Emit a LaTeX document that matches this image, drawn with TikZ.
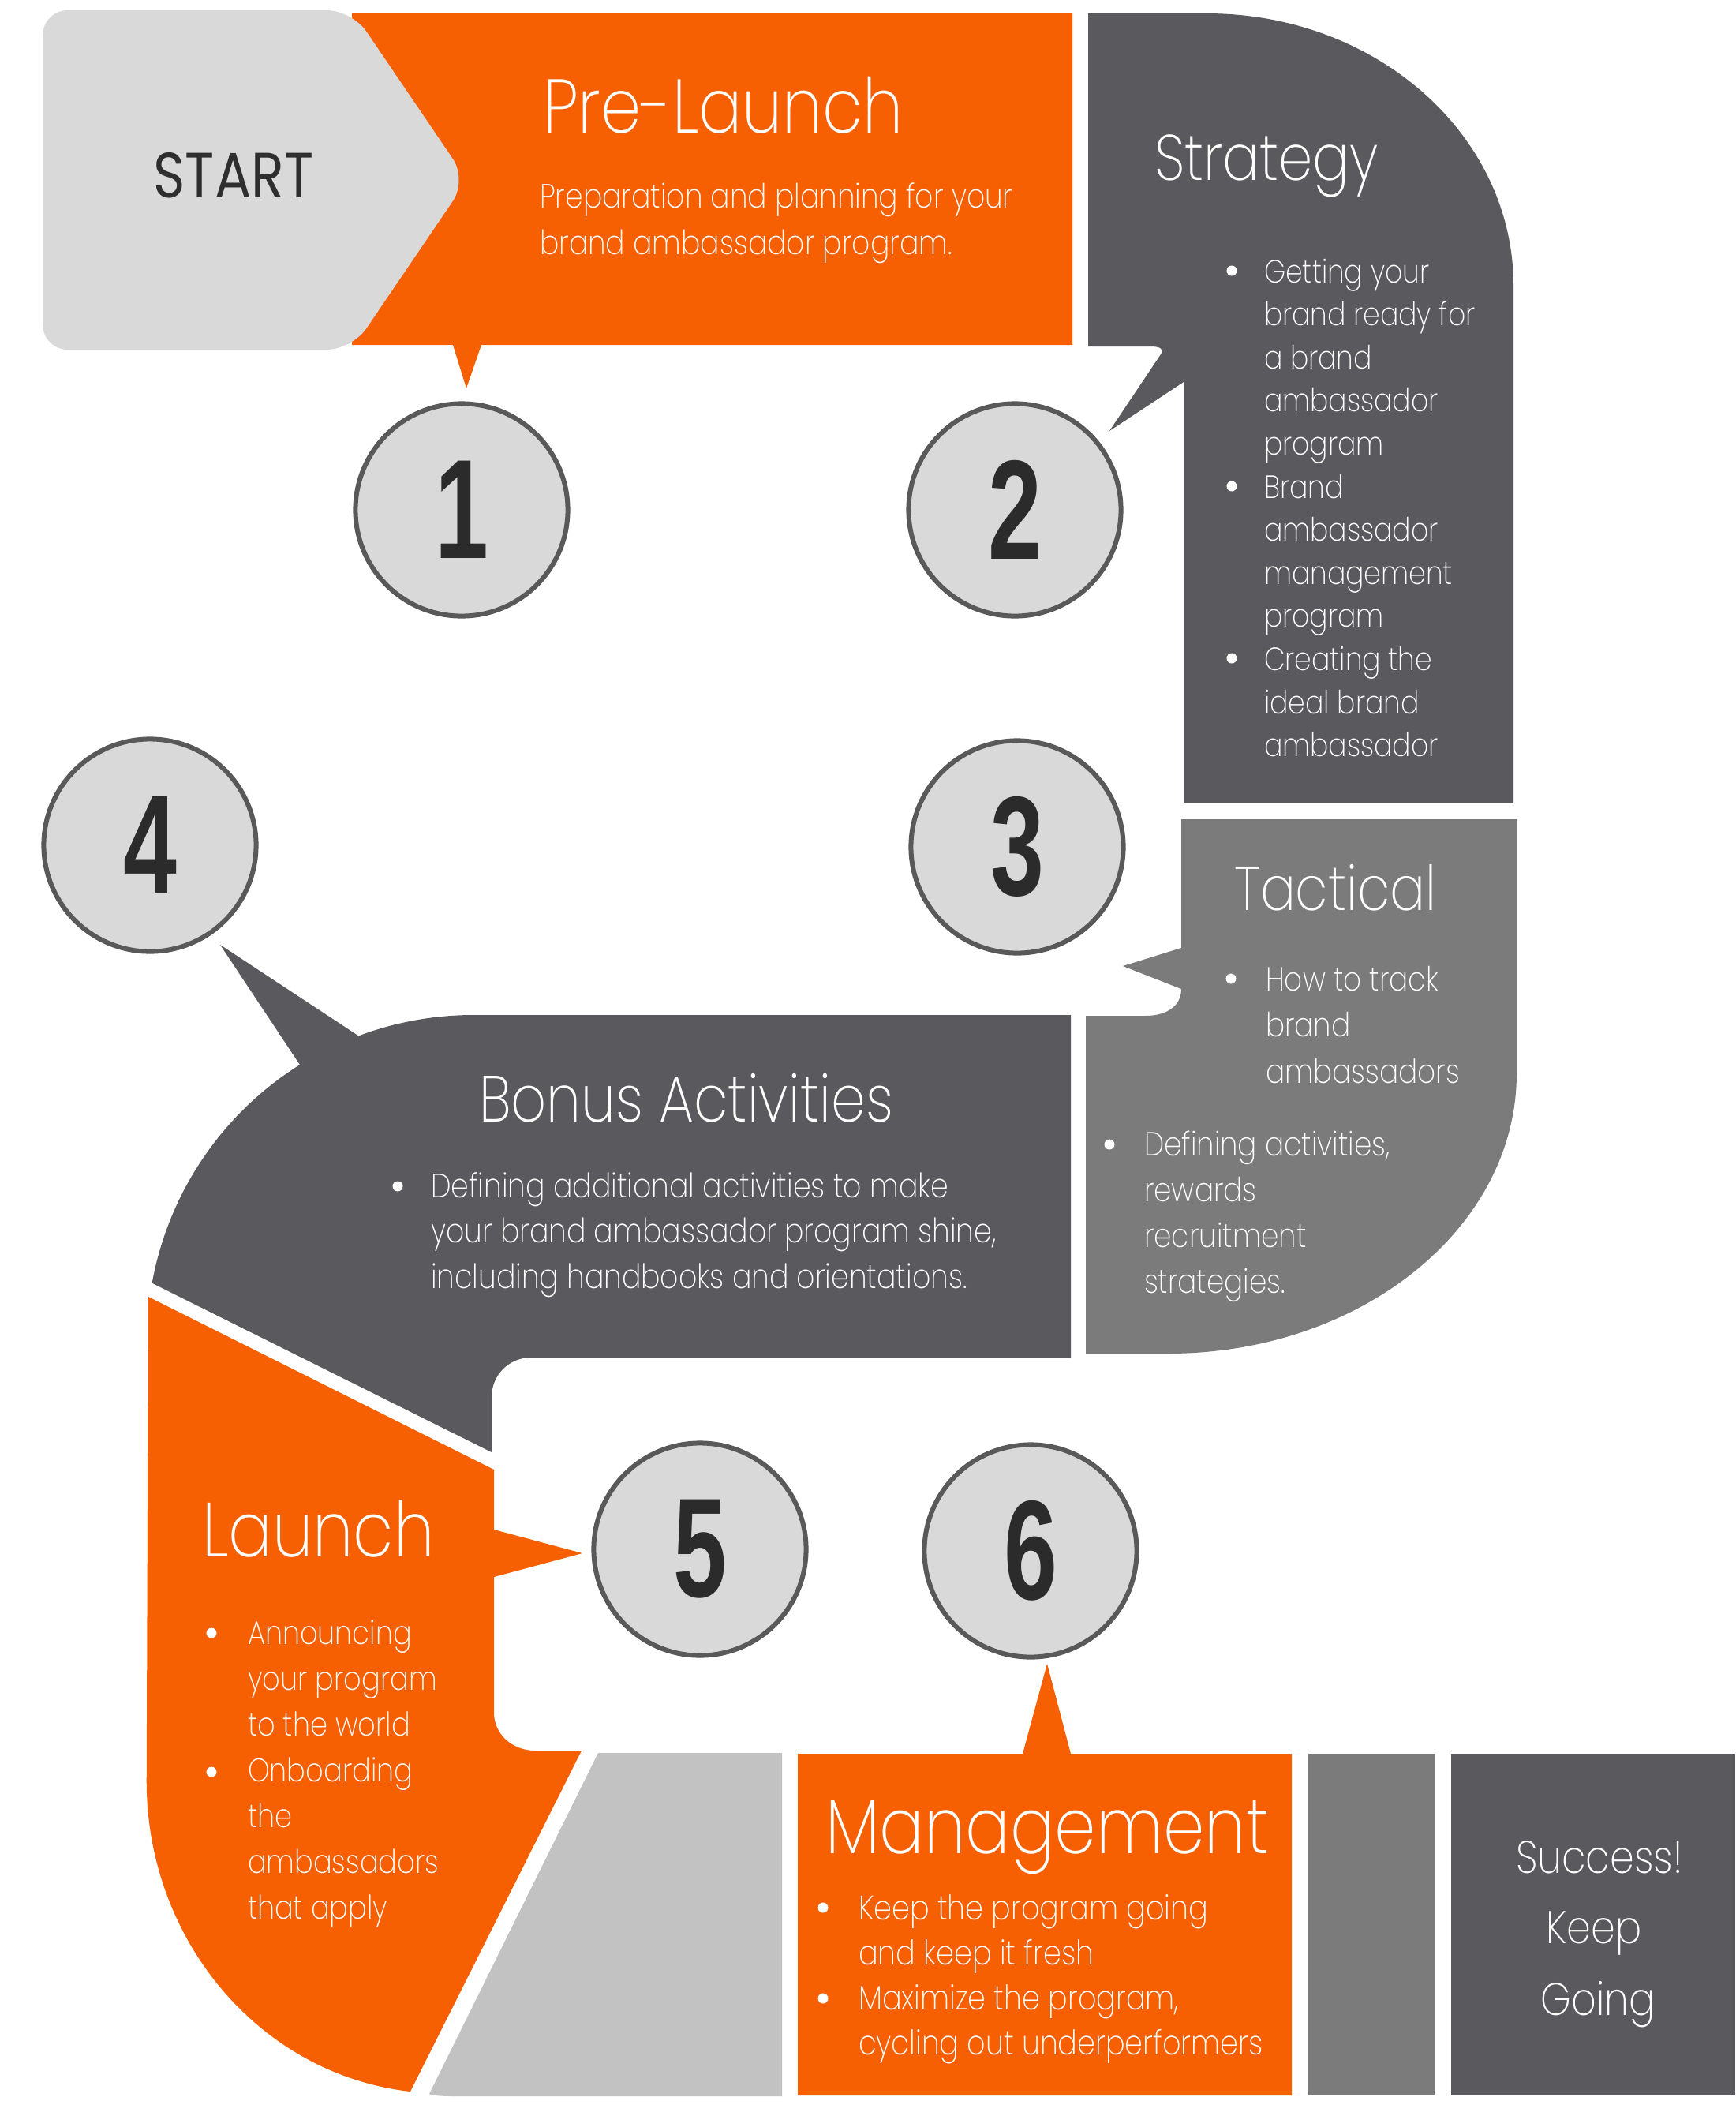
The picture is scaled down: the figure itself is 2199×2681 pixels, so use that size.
\documentclass[tikz,border=0pt]{standalone}
\usepackage{fontspec}
\IfFontExistsTF{Poppins ExtraLight}{%
  \newfontfamily\ltf{Poppins ExtraLight}[FakeStretch=0.85]}{%
  \IfFontExistsTF{Poppins Light}{%
    \newfontfamily\ltf{Poppins Light}[FakeStretch=0.85]}{%
    \newfontfamily\ltf{Poppins}[FakeStretch=0.85]}}
\newfontfamily\stf{Poppins}[FakeStretch=0.85]
\newfontfamily\numfont{Liberation Sans}[FakeStretch=0.68]
\definecolor{orng}{HTML}{F66003}
\definecolor{dgray}{HTML}{5A5A5E}
\definecolor{mgray}{HTML}{7B7B7B}
\definecolor{lgray}{HTML}{C2C2C2}
\definecolor{cgray}{HTML}{D9D9D9}
\definecolor{ringc}{HTML}{595959}
\definecolor{digitc}{HTML}{2B2B2B}
\definecolor{startc}{HTML}{2E2E2E}
\tikzset{
  tx/.style={anchor=base west, inner sep=0pt, outer sep=0pt, text=white},
  ttl/.style={tx, font=\ltf\fontsize{#1}{#1}\selectfont},
  bdy/.style={tx, font=\ltf\fontsize{#1}{#1}\selectfont},
  bul/.style={circle, fill=white, inner sep=0pt, minimum size=0.13cm},
  circ/.style={circle, fill=cgray, draw=ringc, line width=0.06cm, minimum size=2.69cm,
    inner sep=0pt, text=digitc, font=\numfont\bfseries\fontsize{51}{51}\selectfont},
}
\newcommand\txtlines[6]{%
  \foreach \t [count=\i from 0] in {#6}
    \node[#1] (#2\i) at (#3, #4+\i*#5) {\t};}
\begin{document}
\begin{tikzpicture}[x=0.01cm, y=-0.01cm]
\useasboundingbox (0,0) rectangle (2199,2681);
\fill[white] (0,0) rectangle (2199,2681);
% Pre-Launch
\fill[orng] (446,16) -- (1359,16) -- (1359,437) -- (610,437) -- (591,492) -- (574,437) -- (446,437) -- cycle;
% START
\fill[cgray, rounded corners=0.32cm] (54,13) -- (446,13) -- (592,228) -- (446,443) -- (54,443) -- cycle;
% Strategy
\fill[dgray] (1379,17) -- (1529,17) .. controls (1744,17) and (1918,171) .. (1918,362)
  -- (1918,1017) -- (1500,1017) -- (1500,484) -- (1406,546) -- (1471,449)
  .. controls (1476,442) and (1470,439) .. (1458,439) -- (1379,439) -- cycle;
% Tactical
\fill[mgray] (1497,1038) -- (1922,1038) -- (1922,1360) .. controls (1922,1556) and (1724,1715) .. (1480,1715)
  -- (1376,1715) -- (1376,1287) -- (1452,1287) .. controls (1478,1287) and (1497,1275) .. (1497,1253)
  -- (1423,1224) -- (1497,1201) -- cycle;
% Bonus
\fill[dgray] (1357,1286) -- (600,1286) arc[start angle=270, end angle=249.4, radius=414]
  -- (279,1197) -- (380,1349) arc[start angle=237.9, end angle=190.3, radius=414]
  -- (623,1840) -- (623,1770) .. controls (623,1742) and (645,1720) .. (673,1720) -- (1357,1720) -- cycle;
% Launch
\fill[orng] (188,1643) -- (626,1862) -- (626,1938) -- (738,1968) -- (626,1998) -- (626,2170)
  .. controls (626,2198) and (650,2218) .. (678,2218) -- (737,2218) -- (520,2650)
  arc[start angle=96.1, end angle=180, x radius=374, y radius=396] -- cycle;
% light gray piece
\fill[lgray] (758,2221) -- (991,2221) -- (991,2656) -- (575,2656) .. controls (558,2656) and (548,2655) .. (544,2653) -- cycle;
% Management
\fill[orng] (1011,2222) -- (1296,2222) -- (1327,2108) -- (1357,2222) -- (1637,2222) -- (1637,2655) -- (1011,2655) -- cycle;
\fill[mgray] (1658,2222) rectangle (1818,2655);
\fill[dgray] (1839,2222) rectangle (2199,2655);
% circles
\node[circ] (c1) at (585,646) {1};
\node[circ] (c2) at (1286,646) {2};
\node[circ] (c3) at (1289,1073) {3};
\node[circ] (c4) at (190,1071) {4};
\node[circ] (c5) at (887,1963) {5};
\node[circ] (c6) at (1306,1965) {6};
% texts
\node[tx, anchor=base, text=startc, font=\stf\fontsize{23}{23}\selectfont] (start) at (296,250) {START};
\node[ttl=27.4] (pl) at (688,168) {Pre-Launch};
\txtlines{bdy=12.1}{plb}{684}{263}{59}{Preparation and planning for your, brand ambassador program.}
\node[ttl=23.2] (st) at (1463,228) {Strategy};
\txtlines{bdy=11.6}{stb}{1602}{358}{54.6}{Getting your, brand ready for, a brand, ambassador, program, Brand, ambassador, management, program, Creating the, ideal brand, ambassador}
\node[bul] (stp1) at (1561,343) {};
\node[bul] (stp2) at (1561,616) {};
\node[bul] (stp3) at (1561,834) {};
\node[ttl=22.3] (ta) at (1564,1153) {Tactical};
\txtlines{bdy=12}{tab}{1604}{1255}{58.5}{How to track, brand, ambassadors}
\node[bul] (tap1) at (1560,1240) {};
\txtlines{bdy=12}{tac}{1450}{1464}{58}{{Defining activities,}, rewards, recruitment, strategies.}
\node[bul] (tap2) at (1406,1450) {};
\node[ttl=23.5] (bo) at (607,1421) {Bonus Activities};
\txtlines{bdy=12.15}{bob}{546}{1517}{57.5}{Defining additional activities to make, {your brand ambassador program shine,}, including handbooks and orientations.}
\node[bul] (bop1) at (504,1503) {};
\node[ttl=27.6] (la) at (256,1972) {Launch};
\txtlines{bdy=11.8}{lab}{314}{2083}{58}{Announcing, your program, to the world, Onboarding, the, ambassadors, that apply}
\node[bul] (lap1) at (268,2069) {};
\node[bul] (lap2) at (268,2245) {};
\node[ttl=28.1] (ma) at (1046,2348) {Management};
\txtlines{bdy=12.25}{mab}{1088}{2432}{57}{Keep the program going, and keep it fresh, {Maximize the program,}, cycling out underperformers}
\node[bul] (map1) at (1043,2417) {};
\node[bul] (map2) at (1043,2532) {};
\node[tx, anchor=base, font=\ltf\fontsize{16.5}{16.5}\selectfont] (su1) at (2027,2373) {Success!};
\node[tx, anchor=base, font=\ltf\fontsize{16.5}{16.5}\selectfont] (su2) at (2020,2462) {Keep};
\node[tx, anchor=base, font=\ltf\fontsize{16.5}{16.5}\selectfont] (su3) at (2025,2553) {Going};
\end{tikzpicture}
\end{document}
